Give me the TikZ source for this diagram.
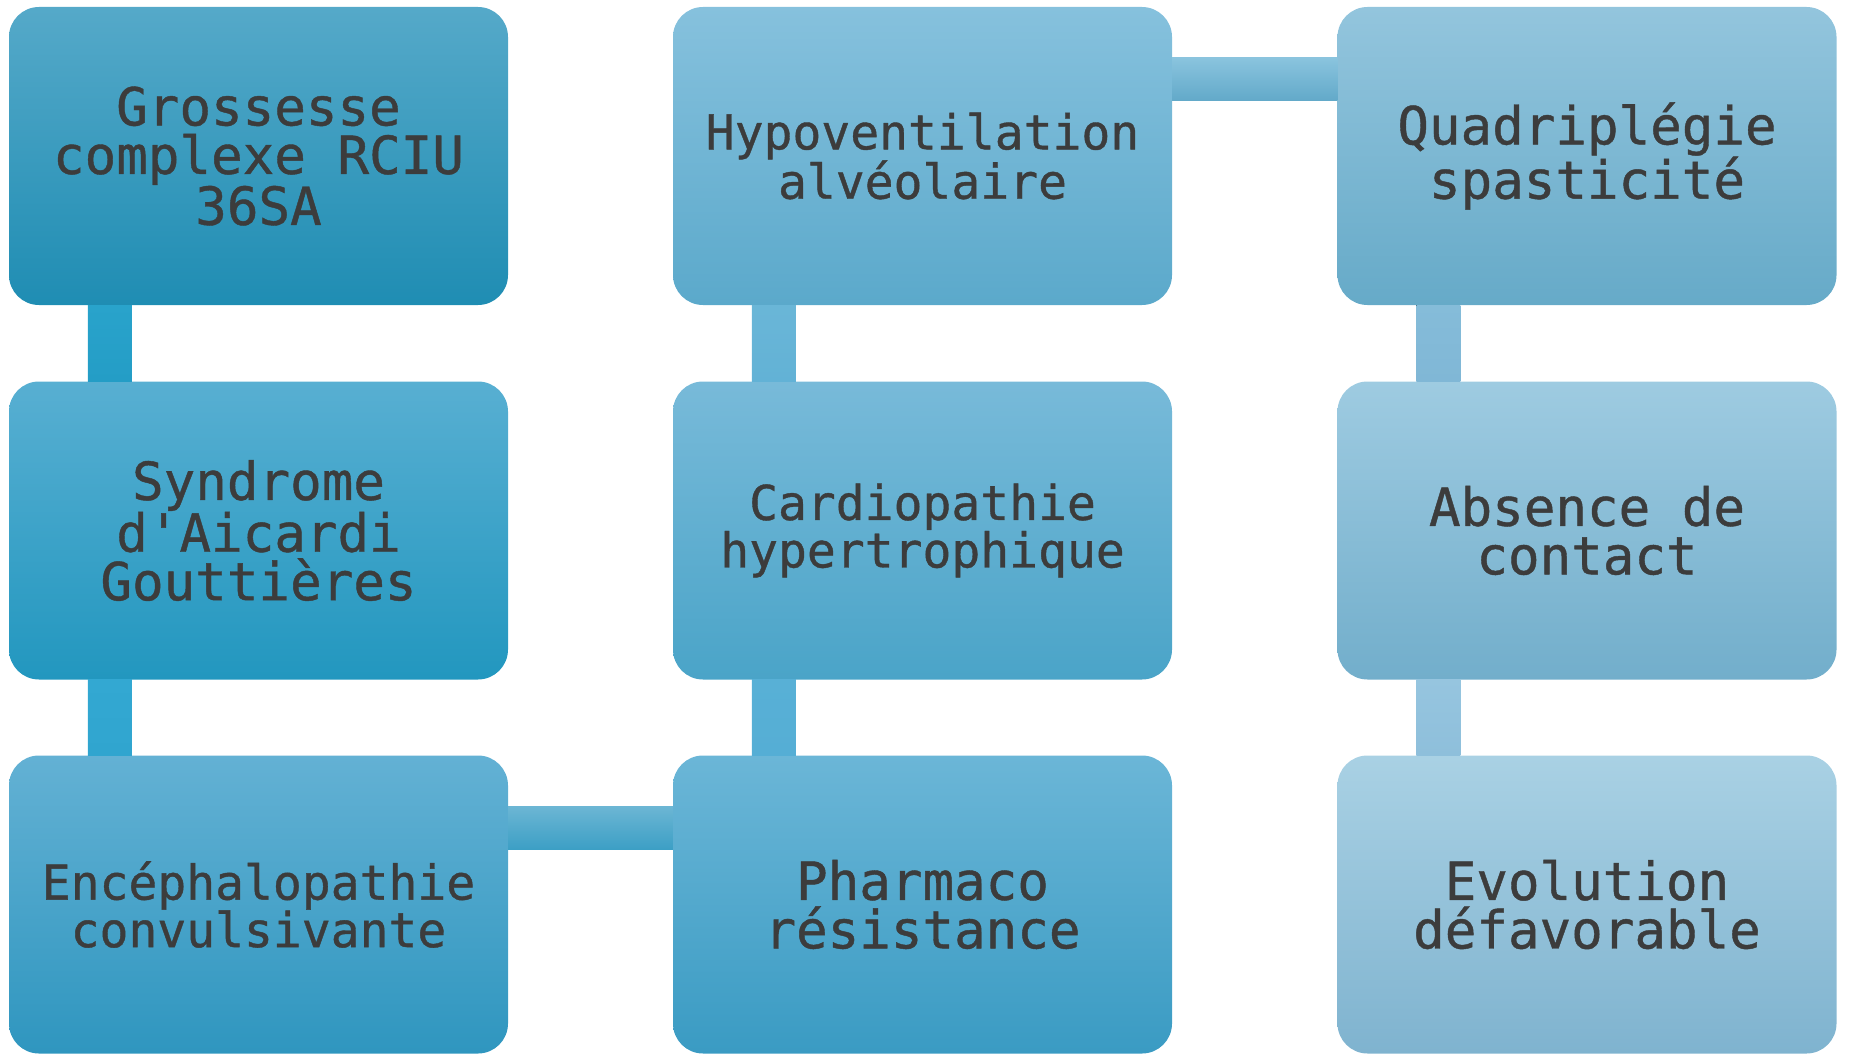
\documentclass[tikz,border=0pt]{standalone}
\usepackage{fontspec}
\newfontfamily\boxfont[FakeBold=0.8]{DejaVu Sans Mono}
\usetikzlibrary{calc}
\definecolor{txt}{HTML}{3C3C3C}
\definecolor{gT}{HTML}{55A9C9}\definecolor{gB}{HTML}{1F8DB3}
\definecolor{sT}{HTML}{58AFD2}\definecolor{sM}{HTML}{2BA4CE}\definecolor{sB}{HTML}{2297BF}
\definecolor{eT}{HTML}{63B1D4}\definecolor{eM}{HTML}{3DA9D3}\definecolor{eB}{HTML}{2F96BF}
\definecolor{hT}{HTML}{86C1DD}\definecolor{hB}{HTML}{5BA9CB}
\definecolor{cT}{HTML}{78BAD9}\definecolor{cB}{HTML}{4AA4C8}
\definecolor{pT}{HTML}{6BB6D7}\definecolor{pM}{HTML}{4DB0D6}\definecolor{pB}{HTML}{3A9BC3}
\definecolor{qT}{HTML}{93C5DD}\definecolor{qB}{HTML}{66AAC8}
\definecolor{aT}{HTML}{9ECBE1}\definecolor{aB}{HTML}{72AECB}
\definecolor{vT}{HTML}{A9D1E4}\definecolor{vB}{HTML}{7FB3CF}
\definecolor{k1T}{HTML}{29A3CB}\definecolor{k1B}{HTML}{249DC6}
\definecolor{k2T}{HTML}{33A8D2}\definecolor{k2B}{HTML}{30A5CF}
\definecolor{k3T}{HTML}{6AB6D7}\definecolor{k3B}{HTML}{62B2D6}
\definecolor{k4T}{HTML}{58B0D6}\definecolor{k4B}{HTML}{55AED5}
\definecolor{k5T}{HTML}{85BCD9}\definecolor{k5B}{HTML}{80B7D6}
\definecolor{k6T}{HTML}{96C5DF}\definecolor{k6B}{HTML}{8EBFDB}
\definecolor{h1T}{HTML}{6CB6D4}\definecolor{h1M}{HTML}{4AAFD5}\definecolor{h1B}{HTML}{3C9FC5}
\definecolor{h2T}{HTML}{8AC4DE}\definecolor{h2M}{HTML}{7ABDDA}\definecolor{h2B}{HTML}{62A9C9}
\begin{document}
\begin{tikzpicture}[x=1pt,y=-1pt,
  box/.style={rounded corners=30pt, minimum width=499pt, minimum height=298pt,
    inner sep=0pt, align=center, text=txt, draw=none,
    font=\boxfont\fontsize{52.5}{48.5}\selectfont},
  longbox/.style={box, font=\boxfont\fontsize{48}{47.5}\selectfont},
  bar/.style={draw=none}]
\useasboundingbox (0,0) rectangle (1849,1054);
% column 1
\node[box, top color=gT, bottom color=gB] (g) at (258.5,156) {Grossesse\\complexe RCIU\\36SA};
\node[box, top color=sT, middle color=sM, bottom color=sB] (s) at (258.5,530.5) {Syndrome\\d'Aicardi\\Gouttières};
\node[longbox, top color=eT, middle color=eM, bottom color=eB] (e) at (258.5,904.5) {Encéphalopathie\\convulsivante};
% column 2
\node[longbox, top color=hT, bottom color=hB] (h) at (922.5,156) {Hypoventilation\\alvéolaire};
\node[longbox, top color=cT, bottom color=cB] (c) at (922.5,530.5) {Cardiopathie\\hypertrophique};
\node[box, top color=pT, middle color=pM, bottom color=pB] (p) at (922.5,904.5) {Pharmaco\\résistance};
% column 3
\node[box, top color=qT, bottom color=qB] (q) at (1587,156) {Quadriplégie\\spasticité};
\node[box, top color=aT, bottom color=aB] (a) at (1587,530.5) {Absence de\\contact};
\node[box, top color=vT, bottom color=vB] (v) at (1587,904.5) {Evolution\\défavorable};
% vertical connectors
\fill[bar, top color=k1T, bottom color=k1B] ($(g.south west)+(79,0)$) rectangle ($(s.north west)+(123,0)$);
\fill[bar, top color=k2T, bottom color=k2B] ($(s.south west)+(79,0)$) rectangle ($(e.north west)+(123,0)$);
\fill[bar, top color=k3T, bottom color=k3B] ($(h.south west)+(79,0)$) rectangle ($(c.north west)+(123,0)$);
\fill[bar, top color=k4T, bottom color=k4B] ($(c.south west)+(79,0)$) rectangle ($(p.north west)+(123,0)$);
\fill[bar, top color=k5T, bottom color=k5B] ($(q.south west)+(79,0)$) rectangle ($(a.north west)+(123,0)$);
\fill[bar, top color=k6T, bottom color=k6B] ($(a.south west)+(79,0)$) rectangle ($(v.north west)+(123,0)$);
% horizontal connectors
\fill[bar, top color=h1T, middle color=h1M, bottom color=h1B] ($(e.north east)+(0,51)$) rectangle ($(p.north west)+(0,94)$);
\fill[bar, top color=h2T, middle color=h2M, bottom color=h2B] ($(h.north east)+(0,51)$) rectangle ($(q.north west)+(0,94)$);
\end{tikzpicture}
\end{document}
